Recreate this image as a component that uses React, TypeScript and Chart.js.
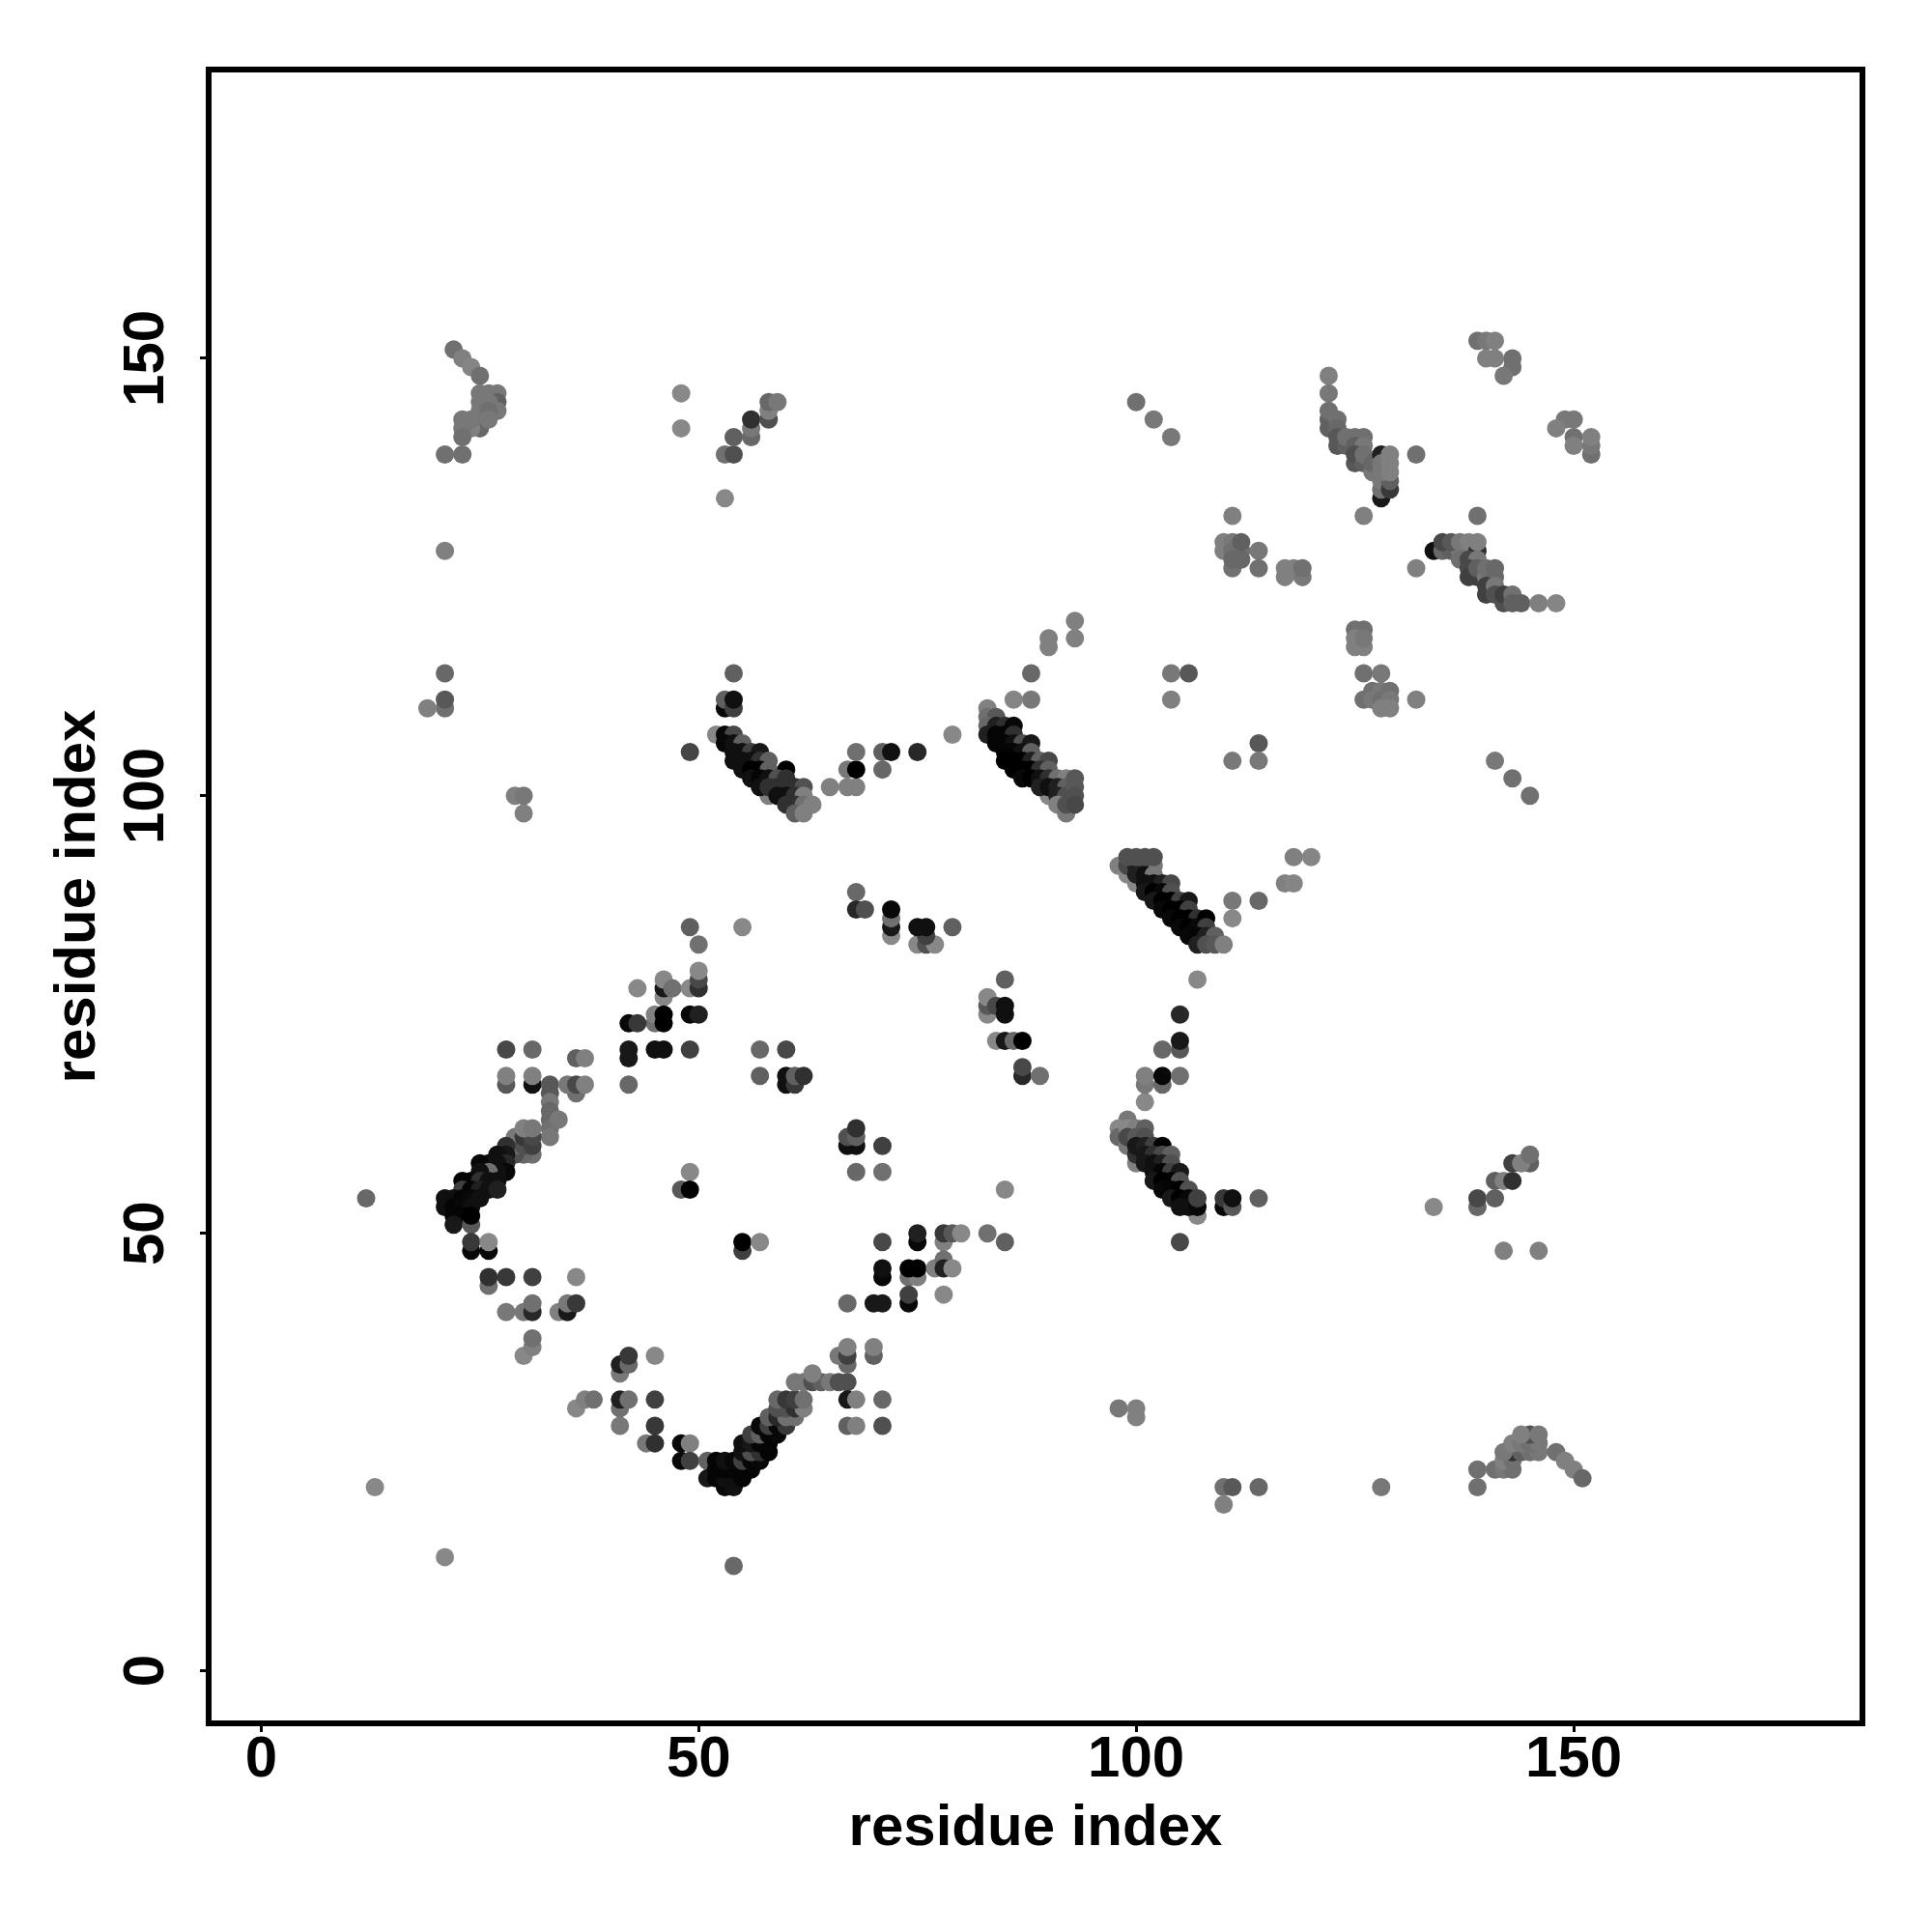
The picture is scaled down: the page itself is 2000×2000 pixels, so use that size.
import React, { useEffect, useRef } from "react";
import { Chart, registerables } from "chart.js";

Chart.register(...registerables);

type Contact = [number, number, number];

const axisTicks = [0, 50, 100, 150];
const axisTitle = "residue index";
const axisMin = -6;
const axisMax = 183;

// [residue x, residue y, grey level]
const topLeftArm: Contact[] = [
  [22,151,0x70],[23,150,0x80],[24,149,0x85],[25,148,0x70],
  [25,143,0x30],[25,142,0x68],[24,142,0x80],[23,143,0x78],[23,142,0x78],[23,141,0x70],[24,143,0x78],
  [25,146,0x78],[26,146,0x78],[27,146,0x78],[27,145,0x60],[27,144,0x78],[25,145,0x78],[25,144,0x78],[26,145,0x78],[26,144,0x70],[26,143,0x78],
  [21,139,0x70],[23,139,0x70],[48,146,0x88],[48,142,0x88],[53,139,0x70],[54,139,0x50],[54,141,0x60],
  [56,141,0x68],[56,142,0x78],[56,143,0x30],[58,143,0x50],[58,144,0x80],[58,145,0x68],[59,145,0x78],
  [53,134,0x88],[21,128,0x80],[21,114,0x68],[21,110,0x70],[21,111,0x58],[19,110,0x80],
  [54,114,0x60],[53,110,0x08],[53,111,0x60],[54,110,0x40],[54,111,0x10],[49,105,0x45],[29,100,0x80],[30,100,0x78],[30,98,0x80],
];

const sheetNear105: Contact[] = [
  [52,107,0x88],[53,107,0x08],[54,107,0x48],[53,106,0x08],[54,106,0x10],[55,106,0x60],
  [54,105,0x10],[55,105,0x10],[56,105,0x40],[57,105,0x18],
  [54,104,0x10],[55,104,0x10],[56,104,0x10],[57,104,0x30],[58,104,0x60],
  [55,103,0x10],[56,103,0x00],[57,103,0x00],[58,103,0x60],[60,103,0x00],
  [56,102,0x10],[57,102,0x05],[58,102,0x10],[59,102,0x50],[60,102,0x30],
  [58,100,0x80],[57,101,0x10],[58,101,0x30],[59,101,0x30],[60,101,0x30],[61,101,0x30],[62,101,0x50],
  [59,100,0x10],[60,100,0x10],[61,100,0x30],[62,100,0x80],
  [60,99,0x30],[61,99,0x30],[62,99,0x70],[61,98,0x60],[62,98,0x80],[63,99,0x80],
  [65,101,0x80],[67,101,0x80],[68,101,0x80],[67,103,0x78],[68,103,0x00],[68,105,0x70],
  [71,103,0x68],[71,105,0x60],[72,105,0x10],[75,105,0x28],[79,107,0x88],
];

const sheetNear88: Contact[] = [
  [93,120,0x80],[93,118,0x80],[90,118,0x80],[90,117,0x80],[88,114,0x68],[88,111,0x78],[86,111,0x85],
  [104,114,0x78],[106,114,0x58],[104,111,0x80],
  [83,110,0x80],[83,109,0x70],[84,109,0x58],[83,108,0x68],[84,108,0x20],[85,108,0x30],[86,108,0x08],
  [83,107,0x20],[84,107,0x05],[85,107,0x05],[86,107,0x30],
  [84,106,0x05],[85,106,0x05],[86,106,0x10],[87,106,0x50],[88,106,0x18],
  [85,105,0x05],[86,105,0x05],[87,105,0x10],[88,105,0x60],
  [85,104,0x00],[86,104,0x00],[87,104,0x00],[88,104,0x20],[89,104,0x60],[90,104,0x48],
  [86,103,0x00],[87,103,0x00],[88,103,0x00],[89,103,0x30],[90,103,0x60],
  [87,102,0x08],[88,102,0x00],[89,102,0x10],[90,102,0x30],[91,102,0x70],[92,102,0x80],
  [90,100,0x88],[89,101,0x20],[90,101,0x10],[91,101,0x20],[92,101,0x60],
  [91,100,0x20],[92,100,0x50],[91,99,0x80],[92,98,0x78],[92,99,0x50],
  [93,102,0x58],[93,101,0x58],[93,100,0x50],[93,99,0x48],
];

const sheetNear90: Contact[] = [
  [98,92,0x80],[99,91,0x88],[100,90,0x88],
  [99,92,0x48],[100,92,0x20],[101,92,0x50],[102,92,0x78],[100,91,0x20],[101,91,0x10],[102,91,0x78],
  [99,93,0x50],[100,93,0x50],[101,93,0x50],[102,93,0x50],
  [101,90,0x10],[102,90,0x10],[103,90,0x20],[104,90,0x48],
  [101,89,0x18],[102,89,0x00],[103,89,0x08],[104,89,0x50],
  [102,88,0x18],[103,88,0x00],[104,88,0x00],[105,88,0x40],[106,88,0x18],
  [103,87,0x08],[104,87,0x00],[105,87,0x00],[106,87,0x40],
  [104,86,0x08],[105,86,0x00],[106,86,0x00],[107,86,0x30],[108,86,0x00],
  [105,85,0x08],[106,85,0x00],[107,85,0x08],[108,85,0x40],
  [106,84,0x08],[107,84,0x05],[108,84,0x20],[109,84,0x60],
  [107,83,0x20],[108,83,0x50],[109,83,0x58],[110,83,0x80],
  [107,79,0x88],[111,88,0x78],[111,86,0x88],[114,88,0x68],[117,90,0x80],[118,90,0x85],[118,93,0x80],[120,93,0x85],
  [141,104,0x78],[143,102,0x70],[145,100,0x70],[114,106,0x58],[114,104,0x78],[111,104,0x78],
  [100,145,0x70],[102,143,0x78],[104,141,0x78],
];

const midIslands: Contact[] = [
  [68,89,0x68],[68,87,0x28],[69,87,0x50],[72,84,0x88],[72,85,0x18],[72,86,0x70],[72,87,0x08],
  [75,83,0x88],[76,83,0x50],[77,83,0x88],[76,84,0x40],[75,85,0x10],[76,85,0x10],[79,85,0x60],
  [85,79,0x60],[83,75,0x88],[83,76,0x58],[83,77,0x88],[84,76,0x48],[85,75,0x10],[85,76,0x10],
  [84,72,0x88],[85,72,0x18],[86,72,0x68],[87,72,0x00],[87,68,0x28],[87,69,0x48],[89,68,0x70],
  [105,75,0x28],[105,71,0x58],[105,72,0x18],[103,71,0x68],[101,65,0x88],[101,67,0x78],[101,68,0x80],[103,67,0x68],[103,68,0x08],[105,68,0x70],
  [57,71,0x68],[60,71,0x48],[57,68,0x60],[60,67,0x10],[60,68,0x10],[61,67,0x38],[61,68,0x60],[62,68,0x30],
  [68,60,0x10],[67,60,0x10],[67,61,0x50],[68,61,0x60],[68,62,0x30],[71,60,0x40],[68,57,0x68],[71,57,0x70],[85,55,0x88],
];

const sheetNear55: Contact[] = [
  [99,63,0x78],[98,62,0x88],[98,61,0x68],[99,60,0x78],[99,62,0x88],[100,62,0x80],[101,62,0x60],
  [99,61,0x48],[100,61,0x58],[101,61,0x50],[100,58,0x80],[100,59,0x30],[100,60,0x18],[101,60,0x20],[102,60,0x40],[103,60,0x00],
  [101,59,0x18],[102,59,0x30],[103,59,0x48],[104,59,0x60],[101,58,0x18],[102,58,0x10],[103,58,0x20],[104,58,0x50],
  [102,57,0x10],[103,57,0x05],[104,57,0x40],[105,57,0x18],
  [102,56,0x18],[103,56,0x00],[104,56,0x00],[105,56,0x50],
  [107,52,0x88],[103,55,0x08],[104,55,0x05],[105,55,0x00],[106,55,0x50],
  [104,54,0x18],[105,54,0x00],[106,54,0x08],[105,53,0x10],[106,53,0x10],[107,53,0x08],[107,54,0x40],
  [110,53,0x08],[110,54,0x38],[111,53,0x58],[111,54,0x10],[114,54,0x60],[105,49,0x48],
];

const rightArc: Contact[] = [
  [134,53,0x88],[139,53,0x68],[139,54,0x48],[141,54,0x60],[141,56,0x60],[142,56,0x80],[143,56,0x30],
  [143,58,0x40],[145,58,0x60],[144,58,0x80],[145,59,0x70],[142,48,0x80],[146,48,0x80],
  [139,23,0x70],[139,21,0x70],[141,23,0x70],[142,23,0x78],[143,23,0x70],[142,24,0x80],[143,24,0x70],
  [143,25,0x30],[144,25,0x60],[142,25,0x78],[145,25,0x70],[146,25,0x78],[143,26,0x80],[144,26,0x78],[145,26,0x70],[146,26,0x78],
  [145,27,0x50],[144,27,0x80],[146,27,0x78],[148,25,0x70],[149,24,0x80],[150,23,0x80],[151,22,0x68],
  [110,21,0x70],[111,21,0x58],[114,21,0x68],[128,21,0x78],[110,19,0x80],[98,30,0x78],[100,30,0x80],[100,29,0x80],
];

const topRightSheets: Contact[] = [
  [139,152,0x70],[140,152,0x78],[141,152,0x80],[140,150,0x80],[141,150,0x80],[143,150,0x70],[143,149,0x70],[142,148,0x78],
  [149,143,0x78],[150,143,0x78],[148,142,0x80],[150,141,0x70],[150,140,0x80],[152,139,0x70],[152,140,0x78],[152,141,0x80],
  [122,148,0x80],[122,146,0x78],[122,142,0x60],[122,143,0x60],[122,144,0x70],[123,143,0x70],[123,142,0x68],
  [123,140,0x58],[123,141,0x58],[124,140,0x60],[124,141,0x70],[125,141,0x70],[126,141,0x70],[125,140,0x60],[126,140,0x78],
  [125,138,0x58],[125,139,0x50],[126,138,0x60],[126,139,0x70],[127,137,0x78],[127,138,0x68],
  [128,134,0x18],[128,135,0x70],[128,136,0x78],[129,135,0x38],[129,136,0x60],[128,139,0x20],[128,138,0x78],[128,137,0x78],[129,137,0x80],[129,138,0x80],[129,139,0x80],
  [132,139,0x70],[111,132,0x80],[126,132,0x80],[139,132,0x70],
  [110,129,0x80],[110,128,0x80],[111,129,0x78],[111,128,0x70],[112,128,0x70],[112,129,0x60],[111,126,0x70],[111,127,0x68],[112,127,0x68],[114,128,0x78],[114,126,0x70],
  [117,125,0x80],[117,126,0x80],[118,126,0x80],[119,125,0x78],[119,126,0x70],[132,126,0x80],
];

const sheetNear128: Contact[] = [
  [134,128,0x10],[135,128,0x68],[136,128,0x60],[137,128,0x78],[135,129,0x48],[136,129,0x58],[137,129,0x78],[138,129,0x80],[139,128,0x30],[139,129,0x80],
  [137,127,0x70],[138,127,0x48],[139,127,0x78],[138,126,0x48],[138,125,0x40],[139,125,0x40],[139,126,0x60],[140,125,0x78],[140,126,0x70],[141,126,0x68],[141,125,0x68],
  [140,123,0x40],[140,124,0x40],[141,124,0x78],[141,123,0x50],[142,122,0x50],[142,123,0x40],[143,123,0x70],[143,122,0x60],[144,122,0x60],[146,122,0x80],[148,122,0x85],
];

const cluster118: Contact[] = [
  [125,119,0x70],[126,119,0x70],[125,117,0x80],[126,117,0x80],[125,118,0x80],[126,118,0x78],
  [126,114,0x70],[128,114,0x78],[126,111,0x70],[127,112,0x70],[128,112,0x78],[129,112,0x70],[127,111,0x78],[128,111,0x70],[129,111,0x78],[128,110,0x80],[129,110,0x80],[132,111,0x80],
];

const upperLeftDiagonal: Contact[] = [
  [49,85,0x60],[55,85,0x88],[50,83,0x70],[43,78,0x88],[46,77,0x88],[46,78,0x18],[46,79,0x88],[47,78,0x70],[49,78,0x88],
  [50,78,0x30],[50,79,0x48],[50,80,0x88],[45,74,0x70],[45,75,0x80],[46,74,0x00],[46,75,0x00],[49,75,0x08],[50,75,0x20],[42,74,0x08],[43,74,0x38],
  [42,70,0x18],[42,71,0x18],[45,71,0x10],[46,71,0x10],[49,71,0x40],[28,71,0x48],[31,71,0x68],[36,70,0x60],[37,70,0x80],
  [28,67,0x58],[28,68,0x80],[31,67,0x10],[31,68,0x80],[33,67,0x58],[33,66,0x58],[33,65,0x78],[33,64,0x68],[33,63,0x68],[33,62,0x70],[33,61,0x78],[34,63,0x78],
  [36,66,0x70],[35,67,0x78],[36,67,0x48],[37,67,0x80],[42,67,0x68],
];

const sheetNear54: Contact[] = [
  [31,59,0x70],[30,59,0x68],[29,59,0x50],[29,60,0x70],[29,61,0x78],[30,60,0x50],[30,61,0x38],[31,60,0x40],[31,61,0x48],[30,62,0x80],[31,62,0x78],
  [28,60,0x30],[28,59,0x18],[27,59,0x10],[28,58,0x28],[27,58,0x10],[26,58,0x10],[25,58,0x08],
  [28,57,0x08],[27,57,0x10],[26,57,0x70],[25,57,0x10],[24,56,0x08],[23,56,0x05],[25,56,0x30],[26,56,0x10],[27,56,0x10],
  [23,55,0x40],[24,55,0x05],[25,55,0x20],[26,55,0x10],[27,55,0x20],
  [21,54,0x10],[22,54,0x10],[23,54,0x05],[24,54,0x08],[25,54,0x10],
  [21,53,0x10],[22,53,0x05],[23,53,0x08],[24,53,0x10],[22,52,0x05],[23,52,0x05],[22,51,0x18],[24,51,0x58],[24,52,0x00],
  [12,54,0x68],[13,21,0x88],[21,13,0x88],[54,12,0x68],
  [24,48,0x08],[26,48,0x08],[24,49,0x38],[26,49,0x88],
];

const lowerLeftPairs: Contact[] = [
  [26,44,0x70],[26,45,0x30],[28,45,0x38],[31,45,0x40],[36,45,0x88],[28,41,0x78],[30,41,0x78],[31,41,0x28],[31,42,0x70],
  [34,41,0x80],[35,41,0x18],[35,42,0x78],[36,42,0x38],[30,36,0x88],[31,37,0x80],[31,38,0x70],
  [41,34,0x78],[41,35,0x20],[42,35,0x68],[42,36,0x38],[45,36,0x88],
  [36,30,0x88],[37,31,0x80],[38,31,0x70],[41,30,0x70],[41,31,0x20],[42,31,0x70],[45,31,0x40],[41,28,0x78],[45,28,0x38],[44,26,0x78],[45,26,0x30],
  [48,26,0x08],[49,26,0x80],[48,24,0x08],[49,24,0x40],[49,57,0x88],[48,55,0x58],[49,55,0x00],[55,48,0x40],[55,49,0x00],[57,49,0x88],
  [71,49,0x48],[75,49,0x08],[75,50,0x20],[78,49,0x80],[78,50,0x38],[79,50,0x58],[80,50,0x88],[83,50,0x70],[85,49,0x60],
  [71,45,0x08],[71,46,0x10],[74,45,0x70],[75,45,0x80],[74,46,0x00],[75,46,0x00],[77,46,0x80],[78,47,0x70],[78,46,0x20],[79,46,0x88],[78,43,0x88],
  [74,42,0x08],[74,43,0x40],[67,42,0x68],[70,42,0x18],[71,42,0x18],
];

const sheetNear25: Contact[] = [
  [51,24,0x60],[51,22,0x18],[52,22,0x05],[53,21,0x08],[54,21,0x10],[53,22,0x10],[54,22,0x10],[55,22,0x05],
  [52,23,0x05],[53,23,0x05],[54,23,0x05],[55,23,0x05],[56,23,0x05],[52,24,0x05],[53,24,0x10],[54,24,0x08],[55,24,0x40],[56,24,0x05],[57,24,0x08],
  [55,25,0x10],[56,25,0x50],[57,25,0x30],[58,25,0x05],[55,26,0x10],[56,26,0x18],[57,26,0x05],[58,26,0x05],
  [56,27,0x40],[57,27,0x60],[58,27,0x05],[59,27,0x08],[57,28,0x08],[58,28,0x40],[59,28,0x08],[60,28,0x38],
  [58,29,0x60],[59,29,0x28],[60,29,0x70],[61,29,0x70],[59,30,0x50],[60,30,0x50],[61,30,0x30],[62,30,0x80],
  [59,31,0x68],[60,31,0x38],[61,31,0x40],[62,31,0x70],
  [61,33,0x78],[62,33,0x78],[63,33,0x50],[64,33,0x60],[65,33,0x78],[66,33,0x50],[67,33,0x50],[63,34,0x80],
  [67,35,0x68],[66,36,0x78],[67,36,0x40],[67,37,0x80],[70,36,0x60],[70,37,0x80],
  [67,31,0x18],[68,31,0x80],[71,31,0x68],[67,28,0x60],[68,28,0x80],[71,28,0x50],
];

const contactGroups = [
  topLeftArm, sheetNear105, sheetNear88, sheetNear90, midIslands, sheetNear55, rightArc,
  topRightSheets, sheetNear128, cluster118, upperLeftDiagonal, sheetNear54, lowerLeftPairs, sheetNear25,
];

const FONT = '"Liberation Sans", Arial, sans-serif';

export default function App() {
  const ref = useRef<HTMLCanvasElement>(null);

  useEffect(() => {
    document.body.style.margin = "0";
    const contacts = contactGroups.flat();

    const boxPlugin = {
      id: "frameBox",
      afterDatasetsDraw(chart: any) {
        const { ctx, chartArea: a } = chart;
        ctx.save();
        ctx.strokeStyle = "#000";
        ctx.lineWidth = 6;
        ctx.lineJoin = "miter";
        ctx.strokeRect(a.left, a.top, a.right - a.left, a.bottom - a.top);
        ctx.restore();
      },
    };

    const tickFont = { family: FONT, size: 60, weight: "bold" as const, lineHeight: 1 };

    const chart = new Chart(ref.current!, {
      type: "scatter",
      data: {
        datasets: [
          {
            data: contacts.map(([x, y]) => ({ x, y })),
            pointRadius: 9.5,
            pointHoverRadius: 9.5,
            pointBorderWidth: 0,
            pointBackgroundColor: contacts.map(([, , g]) => `rgb(${g},${g},${g})`),
            clip: false,
          },
        ],
      },
      plugins: [boxPlugin],
      options: {
        animation: false,
        responsive: false,
        layout: { padding: { top: 72, right: 72, left: 0, bottom: 0 } },
        plugins: { legend: { display: false }, tooltip: { enabled: false } },
        scales: {
          x: {
            type: "linear",
            min: axisMin,
            max: axisMax,
            afterBuildTicks(scale: any) {
              scale.ticks = axisTicks.map((value) => ({ value }));
            },
            afterFit(scale: any) {
              scale.height = 216;
            },
            grid: { drawOnChartArea: false, drawTicks: true, tickLength: 9, tickWidth: 3, tickColor: "#000" },
            border: { display: false },
            ticks: { font: tickFont, color: "#000", padding: -1, maxRotation: 0, minRotation: 0, includeBounds: false },
            title: {
              display: true,
              text: axisTitle,
              color: "#000",
              font: { family: FONT, size: 60, weight: "bold", lineHeight: 1 },
              padding: { top: 0, bottom: 77 },
            },
          },
          y: {
            type: "linear",
            min: axisMin,
            max: axisMax,
            afterBuildTicks(scale: any) {
              scale.ticks = axisTicks.map((value) => ({ value }));
            },
            afterFit(scale: any) {
              scale.width = 216;
            },
            grid: { drawOnChartArea: false, drawTicks: true, tickLength: 9, tickWidth: 3, tickColor: "#000" },
            border: { display: false },
            ticks: {
              font: tickFont,
              color: "#000",
              padding: 4,
              minRotation: 90,
              maxRotation: 90,
              crossAlign: "center",
              includeBounds: false,
            },
            title: {
              display: true,
              text: axisTitle,
              color: "#000",
              font: { family: FONT, size: 60, weight: "bold", lineHeight: 1 },
              padding: { top: 51, bottom: 0 },
            },
          },
        },
      },
    } as any);

    return () => chart.destroy();
  }, []);

  return <canvas ref={ref} width={2000} height={2000} style={{ display: "block" }} />;
}
